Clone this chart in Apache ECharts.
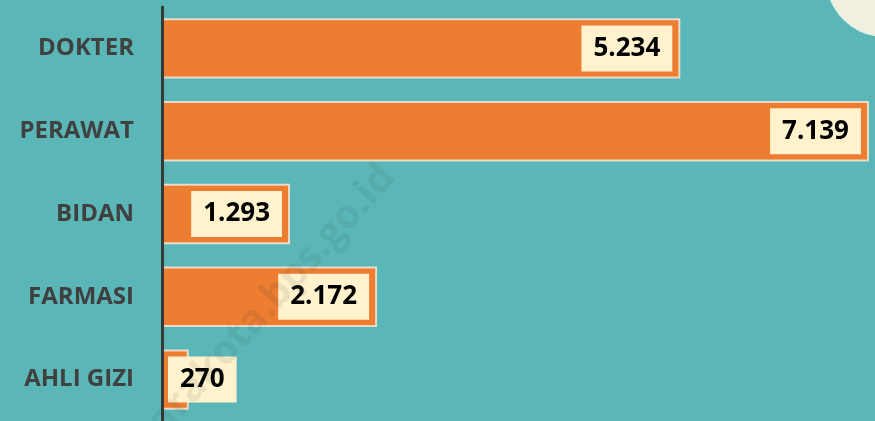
<!DOCTYPE html>
<html>
<head>
<meta charset="utf-8">
<script src="https://cdn.jsdelivr.net/npm/echarts@6/dist/echarts.min.js"></script>
<style>
  html, body { margin: 0; padding: 0; background: #5bb7b7; }
  #chart { width: 875px; height: 421px; }
</style>
</head>
<body>
<div id="chart"></div>
<script>
var categories = ['DOKTER', 'PERAWAT', 'BIDAN', 'FARMASI', 'AHLI GIZI'];
var values = [5234, 7139, 1293, 2172, 270];

// titik sebagai pemisah ribuan
function fmt(v) {
  return String(v).replace(/\B(?=(\d{3})+(?!\d))/g, '.');
}

var chart = echarts.init(document.getElementById('chart'));

chart.setOption({
  backgroundColor: '#5bb7b7',
  animation: false,
  grid: { left: 162, right: 0, top: 7, bottom: -1, containLabel: false },
  xAxis: {
    type: 'value',
    min: 0,
    max: 7200,
    show: false
  },
  yAxis: {
    type: 'category',
    data: categories,
    inverse: true,
    axisLine: { show: true, lineStyle: { color: '#383838', width: 3 } },
    axisTick: { show: false },
    axisLabel: {
      margin: 28,
      color: '#404040',
      fontSize: 24,
      fontWeight: 'bold',
      fontFamily: 'Open Sans'
    },
    z: 5
  },
  graphic: [
    {
      type: 'circle',
      shape: { cx: 885, cy: -22, r: 58 },
      style: { fill: '#f2f0dc', stroke: '#e4f2ea', lineWidth: 2 },
      z: 0
    },
    {
      type: 'text',
      x: 112, y: 448,
      rotation: Math.PI * 48 / 180,
      style: {
        text: 'utarakota.bps.go.id',
        fill: 'rgba(40,60,60,0.09)',
        font: 'bold 40px "Open Sans"'
      },
      z: 100
    }
  ],
  series: [{
    type: 'bar',
    data: values.map(function (v, i) {
      var d = { value: v };
      if (i === 4) d.label = { position: 'insideLeft', distance: 6 };
      return d;
    }),
    barCategoryGap: '27%',
    itemStyle: {
      color: '#ed7d31',
      borderColor: 'rgba(245,232,215,0.85)',
      borderWidth: 2
    },
    label: {
      show: true,
      position: 'insideRight',
      distance: 8,
      formatter: function (p) { return fmt(p.value); },
      backgroundColor: '#fff2cc',
      padding: [9, 12],
      color: '#000',
      fontSize: 26,
      lineHeight: 28,
      fontWeight: 'bold',
      fontFamily: 'Open Sans'
    }
  }]
});
</script>
</body>
</html>
